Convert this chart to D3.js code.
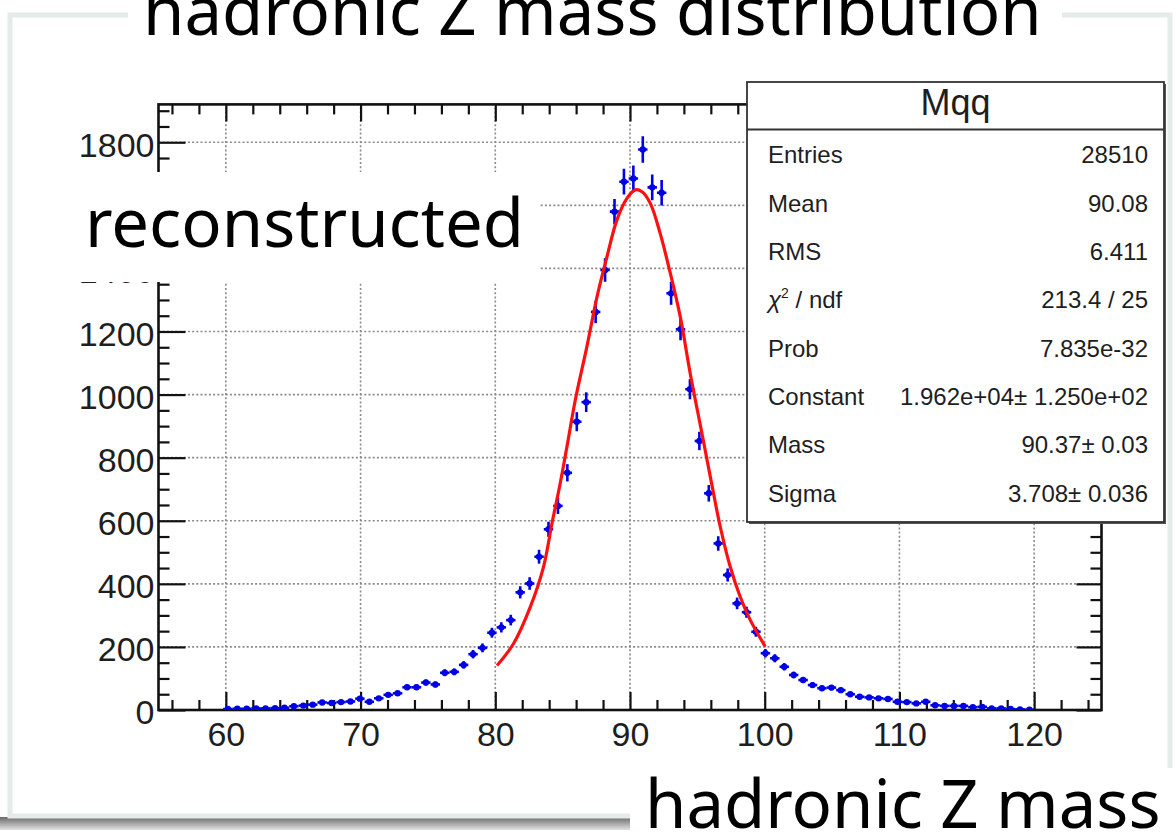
<!DOCTYPE html>
<html>
<head>
<meta charset="utf-8">
<script src="https://cdn.jsdelivr.net/npm/d3@7"></script>
<style>
  body { margin: 0; background: #fff; }
  svg { display: block; }
</style>
</head>
<body>
<div id="chart"></div>
<script>
// histogram: 0.7 GeV bins, first bin starts at 59.8
var binStart = 59.8;
var binWidth = 0.7;
var counts = [3, 4, 4, 5, 5, 6, 7, 12, 14, 17, 24, 22, 25, 27, 36, 26, 37, 48, 53, 72,
  72, 87, 81, 118, 121, 143, 177, 197, 245, 262, 285, 373, 401, 486, 573, 647, 752, 914, 976, 1262,
  1395, 1580, 1675, 1685, 1777, 1657, 1640, 1321, 1207, 1017, 853, 687, 528, 428, 338, 310, 248, 180, 164, 137,
  111, 95, 79, 69, 71, 63, 50, 42, 40, 37, 35, 26, 25, 21, 26, 15, 13, 13, 13, 9,
  10, 5, 5, 3, 2, 1];

// fitted curve, sampled over the fit range 80-100
var fitX = [80.13, 81.36, 82.6, 83.58, 84.21, 84.82, 85.32, 85.94, 86.8, 87.55, 88.29, 89.03, 89.77, 90.39,
  90.89, 91.5, 92.24, 92.99, 93.73, 94.47, 95.22, 95.96, 96.7, 97.44, 98.18, 98.93, 100.04];
var fitY = [141, 211, 327, 454, 592, 719, 835, 983, 1152, 1310, 1437, 1554, 1622, 1649,
  1643, 1607, 1511, 1385, 1247, 1067, 903, 740, 581, 454, 359, 285, 201];

var xTicks = [60, 70, 80, 90, 100, 110, 120];
var yTicks = [0, 200, 400, 600, 800, 1000, 1200, 1400, 1600, 1800];

var statsTitle = "Mqq";
var statsLabels = ["Entries", "Mean", "RMS", "chi2", "Prob", "Constant", "Mass", "Sigma"];
var statsValues = ["28510", "90.08", "6.411", "213.4 / 25", "7.835e-32",
  "1.962e+04\u00b1 1.250e+02", "90.37\u00b1 0.03", "3.708\u00b1 0.036"];

var svgWidth = 1176;
var svgHeight = 835;

var frame = { left: 158.5, right: 1101.5, top: 104.4, bottom: 710 };

var svg = d3.select("#chart")
  .append("svg")
  .attr("width", svgWidth)
  .attr("height", svgHeight);

var defs = svg.append("defs");
var shadowGrad = defs.append("linearGradient")
  .attr("id", "shadow")
  .attr("x1", 0).attr("y1", 0).attr("x2", 0).attr("y2", 1);
shadowGrad.append("stop").attr("offset", "0%").attr("stop-color", "#6a6a6a");
shadowGrad.append("stop").attr("offset", "100%").attr("stop-color", "#e2e2e2");

defs.append("clipPath").attr("id", "plotClip")
  .append("rect")
  .attr("x", frame.left).attr("y", frame.top)
  .attr("width", frame.right - frame.left)
  .attr("height", frame.bottom - frame.top);

// page panel with its drop shadow
svg.append("rect")
  .attr("x", 0).attr("y", 817)
  .attr("width", svgWidth).attr("height", 13)
  .attr("fill", "url(#shadow)");
svg.append("rect")
  .attr("x", 10).attr("y", 15)
  .attr("width", 1160).attr("height", 801)
  .attr("fill", "#fff")
  .attr("stroke", "#e4ebe8")
  .attr("stroke-width", 5);

var x = d3.scaleLinear().domain([55, 125]).range([frame.left, frame.right]);
var y = d3.scaleLinear().domain([0, 1920]).range([frame.bottom, frame.top]);

var xMinor = d3.range(56, 125, 2).filter(d => d % 10 !== 0);
var yMinor = d3.range(50, 1920, 50).filter(d => d % 200 !== 0);

// dotted grid at the major ticks
var grid = svg.append("g").attr("stroke", "#8a8a8a").attr("stroke-width", 1.6)
  .attr("stroke-dasharray", "2,2.2");
grid.selectAll(".gx").data(xTicks).enter().append("line")
  .attr("x1", d => x(d)).attr("x2", d => x(d))
  .attr("y1", frame.bottom).attr("y2", frame.top);
grid.selectAll(".gy").data(yTicks.slice(1)).enter().append("line")
  .attr("x1", frame.left).attr("x2", frame.right)
  .attr("y1", d => y(d)).attr("y2", d => y(d));

function tickStyle(g) {
  g.select(".domain").remove();
  g.selectAll(".tick line").attr("stroke", "#111").attr("stroke-width", 2.2);
  g.selectAll(".tick text")
    .attr("fill", "#1e1e1e")
    .attr("font-family", "'Liberation Sans', Arial, sans-serif")
    .attr("font-size", "34px");
}

// axes with inward ticks, mirrored on top and right
svg.append("g")
  .attr("transform", `translate(0, ${frame.bottom})`)
  .call(d3.axisBottom(x).tickValues(xTicks).tickSizeInner(-18).tickSizeOuter(0).tickPadding(12)
    .tickFormat(d3.format("d")))
  .call(tickStyle);
svg.append("g")
  .attr("transform", `translate(0, ${frame.bottom})`)
  .call(d3.axisBottom(x).tickValues(xMinor).tickSizeInner(-10).tickSizeOuter(0).tickFormat(""))
  .call(tickStyle);
svg.append("g")
  .attr("transform", `translate(0, ${frame.top})`)
  .call(d3.axisTop(x).tickValues(xTicks).tickSizeInner(-17).tickSizeOuter(0).tickFormat(""))
  .call(tickStyle);
svg.append("g")
  .attr("transform", `translate(0, ${frame.top})`)
  .call(d3.axisTop(x).tickValues(xMinor).tickSizeInner(-10).tickSizeOuter(0).tickFormat(""))
  .call(tickStyle);

var leftAxis = svg.append("g")
  .attr("transform", `translate(${frame.left}, 0)`)
  .call(d3.axisLeft(y).tickValues(yTicks).tickSizeInner(-27).tickSizeOuter(0).tickPadding(4)
    .tickFormat(d3.format("d")))
  .call(tickStyle);
leftAxis.selectAll(".tick text").attr("dy", "0.41em");
svg.append("g")
  .attr("transform", `translate(${frame.left}, 0)`)
  .call(d3.axisLeft(y).tickValues(yMinor).tickSizeInner(-11).tickSizeOuter(0).tickFormat(""))
  .call(tickStyle);
svg.append("g")
  .attr("transform", `translate(${frame.right}, 0)`)
  .call(d3.axisRight(y).tickValues(yTicks).tickSizeInner(-25).tickSizeOuter(0).tickFormat(""))
  .call(tickStyle);
svg.append("g")
  .attr("transform", `translate(${frame.right}, 0)`)
  .call(d3.axisRight(y).tickValues(yMinor).tickSizeInner(-11).tickSizeOuter(0).tickFormat(""))
  .call(tickStyle);

svg.append("rect")
  .attr("x", frame.left).attr("y", frame.top)
  .attr("width", frame.right - frame.left)
  .attr("height", frame.bottom - frame.top)
  .attr("fill", "none")
  .attr("stroke", "#111")
  .attr("stroke-width", 2.6);

// histogram points with sqrt(N) error bars
var bins = counts.map((c, i) => ({ lo: binStart + i * binWidth, n: c }));
var dataG = svg.append("g").attr("clip-path", "url(#plotClip)");

var pts = dataG.selectAll(".pt").data(bins).enter().append("g");
pts.append("line")
  .attr("x1", d => x(d.lo)).attr("x2", d => x(d.lo + binWidth))
  .attr("y1", d => y(d.n)).attr("y2", d => y(d.n))
  .attr("stroke", "#0000e6").attr("stroke-width", 2.6);
pts.append("line")
  .attr("x1", d => x(d.lo + binWidth / 2)).attr("x2", d => x(d.lo + binWidth / 2))
  .attr("y1", d => y(d.n - Math.sqrt(d.n))).attr("y2", d => y(d.n + Math.sqrt(d.n)))
  .attr("stroke", "#0000e6").attr("stroke-width", 2.6);
pts.append("circle")
  .attr("cx", d => x(d.lo + binWidth / 2))
  .attr("cy", d => y(d.n))
  .attr("r", 3.2)
  .attr("fill", "#0000e6");

var fitLine = d3.line()
  .x((d, i) => x(fitX[i]))
  .y(d => y(d))
  .curve(d3.curveCatmullRom);
dataG.append("path")
  .attr("d", fitLine(fitY))
  .attr("fill", "none")
  .attr("stroke", "#ff1010")
  .attr("stroke-width", 3.2);

// stats box
var box = { x: 747, y: 82, w: 417, h: 440, head: 47.5 };
var stats = svg.append("g")
  .attr("font-family", "'Liberation Sans', Arial, sans-serif")
  .attr("fill", "#1e1e1e");
stats.append("rect")
  .attr("x", box.x + 2).attr("y", box.y + 2)
  .attr("width", box.w).attr("height", box.h)
  .attr("fill", "#555");
stats.append("rect")
  .attr("x", box.x).attr("y", box.y)
  .attr("width", box.w).attr("height", box.h)
  .attr("fill", "#fff")
  .attr("stroke", "#333")
  .attr("stroke-width", 1.8);
stats.append("line")
  .attr("x1", box.x).attr("x2", box.x + box.w)
  .attr("y1", box.y + box.head).attr("y2", box.y + box.head)
  .attr("stroke", "#333").attr("stroke-width", 1.8);
stats.append("text")
  .attr("x", box.x + box.w / 2).attr("y", 115)
  .attr("text-anchor", "middle")
  .attr("font-size", "36px")
  .text(statsTitle);

var rowY = d3.scaleLinear().domain([0, 7]).range([163.3, 501.7]);
statsLabels.forEach(function(lab, i) {
  var t = stats.append("text")
    .attr("x", 768).attr("y", rowY(i))
    .attr("font-size", "24px");
  if (lab === "chi2") {
    t.append("tspan").attr("font-style", "italic").text("\u03c7");
    t.append("tspan").attr("font-size", "14px").attr("dy", "-10").text("2");
    t.append("tspan").attr("dy", "10").text(" / ndf");
  } else {
    t.text(lab);
  }
  stats.append("text")
    .attr("x", 1148).attr("y", rowY(i))
    .attr("text-anchor", "end")
    .attr("font-size", "24px")
    .text(statsValues[i]);
});

// large captions on white patches
function caption(bx, by, bw, bh, tx, ty, str) {
  svg.append("rect")
    .attr("x", bx).attr("y", by).attr("width", bw).attr("height", bh)
    .attr("fill", "#fff");
  svg.append("text")
    .attr("x", tx).attr("y", ty)
    .attr("font-family", "'Noto Sans', 'Open Sans', sans-serif")
    .attr("font-size", "67px")
    .attr("fill", "#000")
    .text(str);
}
caption(128, 0, 934, 46, 143, 35, "hadronic Z mass distribution");
caption(70, 172, 470, 110, 85, 246.5, "reconstructed");
caption(630, 768, 546, 67, 645, 828, "hadronic Z mass");
</script>
</body>
</html>
